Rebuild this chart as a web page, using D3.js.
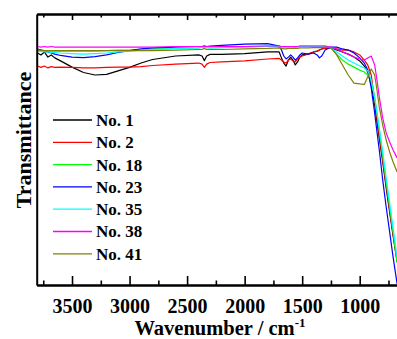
<!DOCTYPE html>
<html>
<head>
<meta charset="utf-8">
<script src="https://cdn.jsdelivr.net/npm/d3@7"></script>
<style>
  html, body { margin: 0; padding: 0; background: #fff; }
  svg { display: block; }
  svg text { font-family: "Liberation Serif", Tinos, "Times New Roman", "DejaVu Serif", serif; font-weight: bold; fill: #000; }
</style>
</head>
<body>
<div id="chart"></div>
<script>
// wavenumber grid, cm-1
const wavenumbers = [3800, 3770, 3740, 3710, 3680, 3650, 3600, 3500, 3400, 3300,
  3200, 3100, 3000, 2900, 2800, 2600, 2400, 2370, 2350, 2330,
  2300, 2200, 2000, 1800, 1700, 1680, 1660, 1640, 1620, 1600,
  1580, 1560, 1540, 1520, 1500, 1450, 1400, 1370, 1350, 1330,
  1300, 1250, 1200, 1150, 1100, 1050, 1000, 960, 930, 900,
  870, 850, 830, 800, 770, 740, 710, 675]

const sampleNames = ["No. 1", "No. 2", "No. 18", "No. 23", "No. 35", "No. 38", "No. 41"]

// transmittance, %
const no1 = [85.6, 84.9, 86.0, 84.1, 84.9, 83.8, 82.7, 80.4, 78.4, 77.5,
  77.7, 79.0, 80.3, 81.9, 83.2, 84.5, 84.9, 84.5, 82.8, 84.5,
  85.1, 85.1, 85.4, 86.0, 86.0, 83.8, 81.9, 80.8, 83.0, 84.1,
  83.0, 81.2, 82.3, 84.1, 84.9, 85.2, 86.0, 86.3, 86.7, 87.1,
  87.5, 87.5, 86.7, 86.0, 85.2, 84.1, 82.7, 80.8, 78.6, 74.2,
  66.4, 60.1, 54.2, 45.4, 35.8, 26.9, 18.1, 8.5]
const no2 = [80.8, 80.3, 80.8, 80.1, 80.6, 80.3, 80.4, 80.3, 80.1, 80.1,
  80.3, 80.4, 80.4, 80.6, 81.0, 81.5, 81.9, 81.5, 80.3, 81.5,
  82.1, 82.3, 82.7, 83.4, 83.6, 83.0, 82.3, 81.9, 83.0, 83.4,
  82.7, 82.3, 83.4, 84.1, 84.5, 85.2, 86.0, 86.3, 86.7, 87.1,
  87.3, 87.5, 87.1, 86.7, 86.7, 86.0, 84.9, 83.0, 81.2, 77.5,
  68.3, 61.6, 55.4, 46.1, 36.9, 27.7, 18.8, 9.2]
const no18 = [86.7, 86.7, 86.5, 86.5, 86.3, 86.3, 86.3, 86.3, 86.3, 86.3,
  86.5, 86.7, 86.7, 86.9, 87.1, 87.3, 87.5, 87.8, 88.2, 87.6,
  87.5, 87.6, 88.0, 88.2, 88.2, 88.0, 87.8, 87.8, 88.0, 88.0,
  88.0, 87.8, 88.0, 88.2, 88.2, 88.2, 88.2, 88.2, 88.2, 88.2,
  88.2, 87.5, 85.2, 83.0, 81.5, 80.4, 79.3, 78.6, 77.5, 74.9,
  69.4, 63.5, 57.2, 47.6, 38.0, 28.8, 19.6, 8.1]
const no23 = [87.1, 86.7, 86.3, 86.0, 85.6, 85.2, 84.7, 84.1, 83.9, 84.3,
  84.9, 85.8, 86.5, 87.1, 87.5, 87.8, 88.0, 88.0, 88.2, 88.0,
  88.2, 88.4, 88.9, 89.1, 88.2, 86.7, 84.5, 83.4, 84.1, 84.9,
  84.1, 83.0, 83.8, 84.9, 85.6, 85.2, 85.6, 84.9, 83.8, 84.5,
  86.7, 87.8, 87.8, 87.1, 86.7, 85.6, 83.8, 81.9, 79.3, 72.7,
  63.5, 56.5, 49.8, 38.7, 28.8, 19.6, 10.3, 0.4]
const no35 = [86.3, 86.2, 86.0, 86.0, 85.8, 85.8, 85.6, 85.4, 85.2, 85.4,
  85.6, 86.0, 86.3, 86.7, 86.9, 87.3, 87.5, 87.6, 87.8, 87.6,
  87.5, 87.6, 87.8, 88.0, 88.0, 87.8, 87.6, 87.6, 87.8, 87.8,
  87.8, 87.6, 87.8, 88.0, 88.0, 88.0, 88.0, 88.0, 88.0, 88.0,
  88.0, 87.5, 86.0, 84.5, 83.0, 81.9, 80.8, 80.1, 79.0, 75.6,
  69.0, 63.5, 57.9, 49.1, 39.5, 30.3, 21.0, 10.3]
const no38 = [88.0, 87.8, 88.0, 87.8, 88.0, 87.8, 87.8, 87.8, 87.8, 87.8,
  87.8, 87.8, 87.8, 87.8, 87.8, 88.0, 88.0, 88.0, 88.2, 88.0,
  88.0, 88.0, 88.0, 88.2, 88.2, 88.0, 88.0, 88.0, 88.0, 88.0,
  88.0, 88.0, 88.0, 88.2, 88.2, 88.2, 88.2, 88.2, 88.2, 88.2,
  88.2, 87.8, 87.1, 86.0, 85.2, 84.1, 83.4, 83.0, 83.8, 84.5,
  81.2, 75.6, 69.4, 61.6, 56.1, 52.8, 49.8, 46.9]
const no41 = [86.7, 86.7, 86.5, 86.5, 86.5, 86.5, 86.5, 86.5, 86.5, 86.5,
  86.5, 86.5, 86.5, 86.5, 86.5, 86.7, 86.9, 86.9, 87.3, 86.9,
  86.9, 86.9, 87.1, 87.3, 87.5, 87.3, 87.1, 87.1, 87.3, 87.3,
  87.3, 87.3, 87.3, 87.5, 87.5, 87.5, 87.6, 87.6, 87.6, 87.6,
  87.8, 87.5, 84.9, 81.2, 77.5, 74.5, 74.2, 74.0, 76.8, 79.7,
  77.5, 72.0, 65.7, 59.0, 53.5, 49.1, 45.4, 41.7]

const seriesValues = [no1, no2, no18, no23, no35, no38, no41]
const xMajorTicks = [3500, 3000, 2500, 2000, 1500, 1000]
const xMinorTicks = [3750, 3250, 2750, 2250, 1750, 1250, 750]

const colors = ["#000000", "#ff0000", "#00ff00", "#0000ff", "#00ffff", "#ff00ff", "#808000"]

class SpectrumChart {
  constructor(elem, options) {
    this.$el = elem
    this.options = options
    this.#render()
  }

  #render() {
    const {width, height, margin} = this.options

    this.svg = d3.select(this.$el).append("svg")
      .attr("width", width)
      .attr("height", height)

    this.x = d3.scaleLinear()
      .domain([3807, 676])
      .range([margin.left, width])
    this.y = d3.scaleLinear()
      .domain([0, 100])
      .range([height - margin.bottom, margin.top])

    this.#drawLines()
    this.#drawAxes()
    this.#drawLegend()
  }

  #drawLines() {
    const {x, y, svg} = this
    const [x0, x1] = x.range()
    const [y0, y1] = y.range()

    svg.append("defs").append("clipPath")
      .attr("id", "plot-clip")
      .append("rect")
        .attr("x", x0).attr("y", y1)
        .attr("width", x1 - x0).attr("height", y0 - y1)

    const line = d3.line()
      .x(d => x(d[0]))
      .y(d => y(d[1]))

    svg.append("g")
      .attr("clip-path", "url(#plot-clip)")
      .selectAll("path")
      .data(seriesValues)
      .enter()
      .append("path")
        .attr("d", vals => line(vals.map((v, i) => [wavenumbers[i], v])))
        .attr("fill", "none")
        .attr("stroke", (d, i) => colors[i])
        .attr("stroke-width", 1.2)
        .attr("stroke-linejoin", "round")
  }

  #drawAxes() {
    const {x, y, svg} = this
    const bottom = y.range()[0]
    const top = y.range()[1]

    // bottom: labelled major ticks, inward
    const bottomAxis = svg.append("g")
      .attr("transform", `translate(0,${bottom})`)
      .call(d3.axisBottom(x)
        .tickValues(xMajorTicks)
        .tickFormat(d3.format("d"))
        .tickSizeInner(-9)
        .tickSizeOuter(0)
        .tickPadding(14))
    bottomAxis.attr("font-family", null).attr("font-size", null)
    bottomAxis.selectAll("text").style("font-size", "20px")

    svg.append("g")
      .attr("transform", `translate(0,${bottom})`)
      .call(d3.axisBottom(x).tickValues(xMinorTicks).tickSizeInner(-4.5).tickSizeOuter(0).tickFormat(""))

    // top: ticks only
    svg.append("g")
      .attr("transform", `translate(0,${top})`)
      .call(d3.axisTop(x).tickValues(xMajorTicks).tickSizeInner(-6).tickSizeOuter(0).tickFormat(""))
    svg.append("g")
      .attr("transform", `translate(0,${top})`)
      .call(d3.axisTop(x).tickValues(xMinorTicks).tickSizeInner(-3.5).tickSizeOuter(0).tickFormat(""))

    // left: plain frame line
    svg.append("g")
      .attr("transform", `translate(${x.range()[0]},0)`)
      .call(d3.axisLeft(y).tickValues([]).tickSizeOuter(0))

    svg.selectAll(".domain").attr("stroke-width", 2)
    svg.selectAll(".tick line").attr("stroke-width", 1.6)

    const xLabel = svg.append("text")
      .attr("x", 220)
      .attr("y", 335)
      .attr("text-anchor", "middle")
      .style("font-size", "20.5px")
    xLabel.append("tspan").text("Wavenumber / cm")
    xLabel.append("tspan")
      .attr("dy", -8)
      .style("font-size", "13px")
      .text("-1")

    svg.append("text")
      .attr("transform", "translate(31,140) rotate(-90)")
      .attr("text-anchor", "middle")
      .style("font-size", "22px")
      .text("Transmittance")
  }

  #drawLegend() {
    const legend = this.svg.append("g")
      .attr("transform", "translate(53,120)")

    const rows = legend.selectAll("g")
      .data(sampleNames)
      .enter()
      .append("g")
        .attr("transform", (d, i) => `translate(0,${i * 22.3})`)

    rows.append("line")
      .attr("x1", 0).attr("x2", 39)
      .attr("stroke", (d, i) => colors[i])
      .attr("stroke-width", 1.3)

    rows.append("text")
      .attr("x", 43)
      .attr("dy", "0.35em")
      .style("font-size", "17px")
      .text(d => d)
  }
}

new SpectrumChart(document.getElementById("chart"), {
  width: 397,
  height: 339,
  margin: {top: 14, bottom: 54, left: 36.7}
})
</script>
</body>
</html>
